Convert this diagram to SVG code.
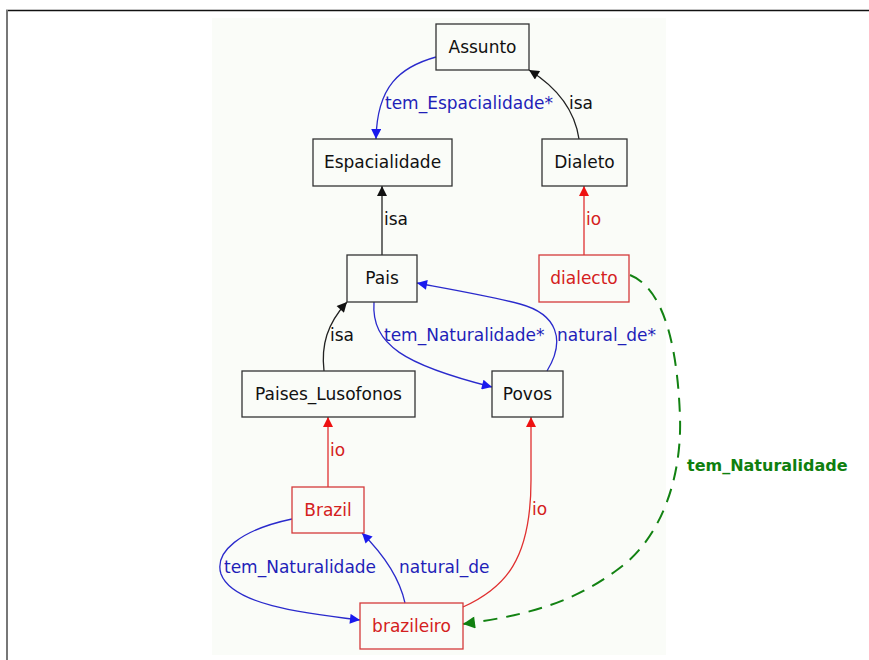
<svg xmlns="http://www.w3.org/2000/svg" width="869" height="660" viewBox="0 0 869 660">
  <style>
    text { font-family: "DejaVu Sans", "Liberation Sans", sans-serif; font-size: 17px; }
    .node rect { fill: none; stroke: #333333; stroke-width: 1.3; }
    .node text { fill: #111111; text-anchor: middle; }
    .inst rect { stroke: #d43a3a; }
    .inst text { fill: #d42020; }
    .e { fill: none; stroke-width: 1.3; }
    .blk { stroke: #222222; }
    .blu { stroke: #2a2acc; }
    .red { stroke: #e03030; }
    .grn { stroke: #128212; stroke-width: 2; stroke-dasharray: 14 9; }
    .lb { fill: #1f1fb8; }
    .lk { fill: #111111; }
    .lr { fill: #d42020; }
    .lg { fill: #0f7f0f; font-weight: bold; font-size: 16px; }
  </style>
  <defs>
    <marker id="ak" viewBox="0 0 10 10" refX="10" refY="5" markerWidth="12" markerHeight="10" markerUnits="userSpaceOnUse" orient="auto">
      <path d="M0,0 L10,5 L0,10 z" fill="#111111"/>
    </marker>
    <marker id="ab" viewBox="0 0 10 10" refX="10" refY="5" markerWidth="13" markerHeight="10" markerUnits="userSpaceOnUse" orient="auto">
      <path d="M0,0 L10,5 L0,10 z" fill="#1a1aee"/>
    </marker>
    <marker id="ar" viewBox="0 0 10 10" refX="10" refY="5" markerWidth="13" markerHeight="10" markerUnits="userSpaceOnUse" orient="auto">
      <path d="M0,0 L10,5 L0,10 z" fill="#ee1111"/>
    </marker>
    <marker id="ag" viewBox="0 0 10 10" refX="10" refY="5" markerWidth="15" markerHeight="12" markerUnits="userSpaceOnUse" orient="auto">
      <path d="M0,0 L10,5 L0,10 z" fill="#108010"/>
    </marker>
  </defs>

  <!-- page frame and canvas -->
  <rect x="0" y="0" width="869" height="660" fill="#ffffff"/>
  <rect x="212" y="18" width="454" height="637" fill="#fafcf8"/>
  <line x1="6" y1="10.5" x2="869" y2="10.5" stroke="#111111" stroke-width="1.5"/>
  <line x1="7" y1="10" x2="7" y2="660" stroke="#777777" stroke-width="2"/>

  <!-- connectors -->
  <g id="edges">
    <path class="e blu" d="M436,57 C400,67 377,86 376,139" marker-end="url(#ab)"/>
    <text class="lb" x="385" y="109">tem_Espacialidade*</text>

    <path class="e blk" d="M579,139 C575,112 558,88 529,70" marker-end="url(#ak)"/>
    <text class="lk" x="569" y="109">isa</text>

    <path class="e blk" d="M382,255 L382,186" marker-end="url(#ak)"/>
    <text class="lk" x="384" y="225">isa</text>

    <path class="e red" d="M584,255 L584,186" marker-end="url(#ar)"/>
    <text class="lr" x="586" y="225">io</text>

    <path class="e blk" d="M324,371 C321,345 327,324 347,302" marker-end="url(#ak)"/>
    <text class="lk" x="330" y="341">isa</text>

    <path class="e blu" d="M374,302 C371,345 405,365 492,387" marker-end="url(#ab)"/>
    <text class="lb" x="384" y="341">tem_Naturalidade*</text>

    <path class="e blu" d="M547,371 C566,340 557,314 520,304 C490,296 455,290 417,283" marker-end="url(#ab)"/>
    <text class="lb" x="557" y="341">natural_de*</text>

    <path class="e red" d="M328,487 L328,417" marker-end="url(#ar)"/>
    <text class="lr" x="330" y="456">io</text>

    <path class="e red" d="M463,607 C505,588 531,560 531,480 L531,417" marker-end="url(#ar)"/>
    <text class="lr" x="532" y="515">io</text>

    <path class="e blu" d="M292,519 C240,530 214,552 221,574 C232,604 300,613 360,620" marker-end="url(#ab)"/>
    <text class="lb" x="224" y="573">tem_Naturalidade</text>

    <path class="e blu" d="M405,603 C400,580 385,556 362,533" marker-end="url(#ab)"/>
    <text class="lb" x="399" y="573">natural_de</text>

    <path class="e grn" d="M630,275 C668,290 678,360 680,417 C682,480 660,540 617,570 C580,597 540,614 463,624" marker-end="url(#ag)"/>
    <text class="lg" x="687" y="471">tem_Naturalidade</text>
  </g>

  <!-- nodes -->
  <g id="Assunto" class="node">
    <rect x="436" y="24" width="93" height="46"/>
    <text x="482.5" y="53">Assunto</text>
  </g>
  <g id="Espacialidade" class="node">
    <rect x="313" y="139" width="139" height="47"/>
    <text x="382.5" y="168">Espacialidade</text>
  </g>
  <g id="Dialeto" class="node">
    <rect x="542" y="139" width="85" height="47"/>
    <text x="584.5" y="168">Dialeto</text>
  </g>
  <g id="dialecto" class="node inst">
    <rect x="539" y="255" width="90" height="47"/>
    <text x="584" y="284">dialecto</text>
  </g>
  <g id="Pais" class="node">
    <rect x="347" y="255" width="70" height="47"/>
    <text x="382" y="284">Pais</text>
  </g>
  <g id="Paises_Lusofonos" class="node">
    <rect x="242" y="371" width="173" height="46"/>
    <text x="328.5" y="400">Paises_Lusofonos</text>
  </g>
  <g id="Povos" class="node">
    <rect x="492" y="371" width="71" height="46"/>
    <text x="527.5" y="400">Povos</text>
  </g>
  <g id="Brazil" class="node inst">
    <rect x="292" y="487" width="72" height="46"/>
    <text x="328" y="516">Brazil</text>
  </g>
  <g id="brazileiro" class="node inst">
    <rect x="360" y="603" width="103" height="46"/>
    <text x="411.5" y="632">brazileiro</text>
  </g>
</svg>
